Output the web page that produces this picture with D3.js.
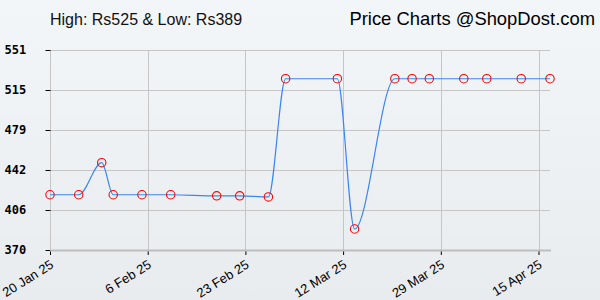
<!DOCTYPE html>
<html><head><meta charset="utf-8">
<script src="https://cdn.jsdelivr.net/npm/d3@7"></script>
<style>body{margin:0;}svg{display:block;}</style>
</head><body>
<script>
const dates = ["2025-01-20","2025-01-25","2025-01-29","2025-01-31","2025-02-05","2025-02-10","2025-02-18","2025-02-22","2025-02-27","2025-03-02","2025-03-11","2025-03-14","2025-03-21","2025-03-24","2025-03-27","2025-04-02","2025-04-06","2025-04-12","2025-04-17"];
const prices = [420,420,449,420,420,420,419,419,418,525,525,389,525,525,525,525,525,525,525];
const yTicks = [370,406.2,442.4,478.6,514.8,551];
const xTickDates = ["2025-01-20","2025-02-06","2025-02-23","2025-03-12","2025-03-29","2025-04-15"];
const titleLeft = "High: Rs525 & Low: Rs389";
const titleRight = "Price Charts @ShopDost.com";

const W=600,H=300;
const parse=d3.utcParse("%Y-%m-%d");
const data=dates.map((d,i)=>({d:parse(d),v:prices[i]}));
const svg=d3.select("body").append("svg").attr("width",W).attr("height",H);
const defs=svg.append("defs");
const g=defs.append("linearGradient").attr("id","bg").attr("x1",0).attr("y1",0).attr("x2",0).attr("y2",1);
g.append("stop").attr("offset","0%").attr("stop-color","#f3f6f9");
g.append("stop").attr("offset","100%").attr("stop-color","#e9ecef");
svg.append("rect").attr("width",W).attr("height",H).attr("fill","url(#bg)");

const x=d3.scaleUtc().domain([parse("2025-01-20"),parse("2025-04-17")]).range([50,550]);
const y=d3.scaleLinear().domain([370,551]).range([250,50]);

// grid
svg.append("g").selectAll("line").data(yTicks).join("line")
 .attr("x1",50).attr("x2",550).attr("y1",d=>Math.round(y(d))+0.5).attr("y2",d=>Math.round(y(d))+0.5)
 .attr("stroke","#c6c6c6").attr("stroke-width",1);
svg.append("g").selectAll("line").data(xTickDates).join("line")
 .attr("x1",d=>Math.round(x(parse(d)))+0.5).attr("x2",d=>Math.round(x(parse(d)))+0.5).attr("y1",50).attr("y2",250)
 .attr("stroke","#c6c6c6").attr("stroke-width",1);

// y axis
const ya=d3.axisLeft(y).tickValues(yTicks).tickSize(5).tickFormat(d=>Math.round(d));
const yg=svg.append("g").attr("transform","translate(50.5,0)").call(ya);
yg.select(".domain").remove();
yg.selectAll(".tick line").attr("stroke","#000");
yg.selectAll(".tick text").attr("x",-46).attr("text-anchor","start")
 .attr("font-family","DejaVu Sans Mono").attr("font-weight","bold").attr("font-size","12px").attr("fill","#000");

// x axis
const xa=d3.axisBottom(x).tickValues(xTickDates.map(parse)).tickSize(5)
 .tickFormat(d=>d3.utcFormat("%-d %b %y")(d));
const xg=svg.append("g").attr("transform","translate(0,250)").call(xa);
xg.select(".domain").remove();
svg.append("line").attr("x1",50).attr("x2",551).attr("y1",250.5).attr("y2",250.5).attr("stroke","#bdbdbd").attr("stroke-width",2);
xg.selectAll(".tick line").attr("stroke","#000");
xg.selectAll(".tick text").attr("font-family","Liberation Sans, Arial").attr("font-size","13px").attr("fill","#000")
 .attr("text-anchor","end").attr("dy",0).attr("y",0)
 .attr("transform","translate(4,17) rotate(-32)");

// line
const line=d3.line().x(d=>x(d.d)).y(d=>y(d.v)).curve(d3.curveMonotoneX);
svg.append("path").datum(data).attr("d",line).attr("fill","none").attr("stroke","#3a86f0").attr("stroke-width",1.2);
svg.append("g").selectAll("circle").data(data).join("circle")
 .attr("cx",d=>x(d.d)).attr("cy",d=>y(d.v)).attr("r",4.2)
 .attr("fill","none").attr("stroke","#ff0000").attr("stroke-width",1.1);

// titles
svg.append("text").attr("x",50).attr("y",25).text(titleLeft)
 .attr("font-family","Liberation Sans, Arial").attr("font-size","16px").attr("fill","#111");
svg.append("text").attr("x",595).attr("y",25).attr("text-anchor","end").text(titleRight)
 .attr("font-family","Liberation Sans, Arial").attr("font-size","18.4px").attr("fill","#000");
</script>
</body></html>
